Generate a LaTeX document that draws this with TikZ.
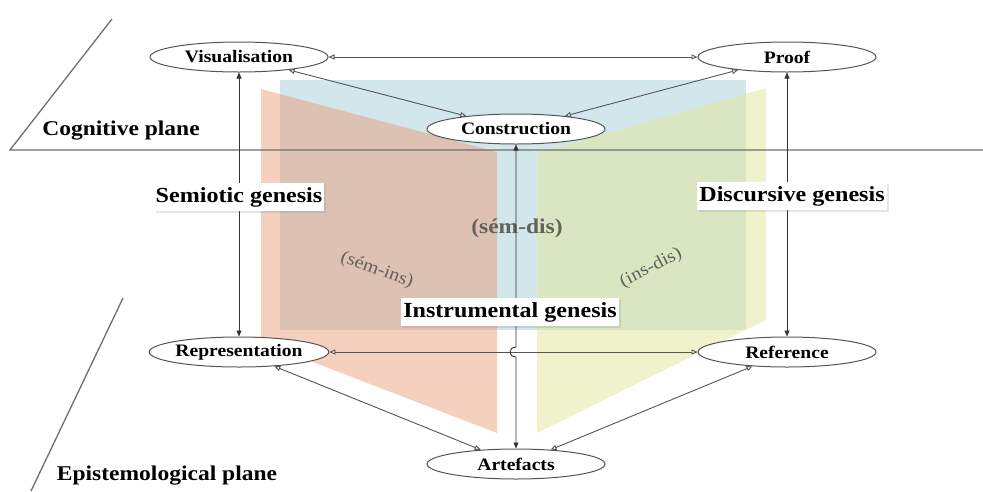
\documentclass[tikz,border=0pt]{standalone}
\usepackage{fontspec}
\setmainfont{Liberation Serif}[FakeStretch=1.12]
\usetikzlibrary{arrows.meta,shapes.geometric,calc,shadows}

\definecolor{panelblue}{RGB}{210,231,236}
\definecolor{panelred}{RGB}{236,150,112}
\definecolor{panelyellow}{RGB}{226,230,152}
\definecolor{planegray}{RGB}{110,110,110}
\definecolor{linkgray}{RGB}{85,85,85}
\definecolor{notegray}{RGB}{100,96,90}

\begin{document}
\begin{tikzpicture}[x=1pt, y=-1pt,
  stage/.style={ellipse, draw=linkgray, line width=1pt, fill=white,
    minimum width=178pt, minimum height=30pt, inner sep=0pt,
    font=\fontsize{17.5}{18}\selectfont\bfseries},
  genbox/.style={fill=white, inner xsep=2pt, inner ysep=4pt,
    font=\fontsize{21.5}{22}\selectfont\bfseries,
    drop shadow={opacity=0.2, shadow xshift=2pt, shadow yshift=-2pt}},
  planelabel/.style={font=\fontsize{21}{22}\selectfont\bfseries},
  note/.style={text=notegray, font=\fontsize{18}{18}\selectfont},
  plane/.style={draw=planegray, line width=1.3pt},
  link/.style={draw=linkgray, line width=0.9pt,
    {Triangle[length=6pt,width=5pt,fill=white]}-{Triangle[length=6pt,width=5pt,fill=white]}},
  genesis/.style={draw=black!80, line width=0.9pt,
    {Triangle[length=6pt,width=5pt]}-{Triangle[length=6pt,width=5pt]}}]
  \useasboundingbox (0,0) rectangle (983,491);

  % coloured panels
  \fill[panelblue] (280,80) rectangle (746,330);
  \fill[panelred, opacity=0.45] (261,89) -- (497,152) -- (497,433) -- (261,342) -- cycle;
  \fill[panelyellow, opacity=0.5] (766,88) -- (537,153) -- (537,433) -- (766,320) -- cycle;

  % planes
  \draw[plane] (112,19) -- (10,150) -- (983,150);
  \draw[plane] (123,298) -- (31,491);
  \node[planelabel] (cog) at (121,131) {Cognitive plane};
  \node[planelabel] (epi) at (167,476) {Epistemological plane};

  % panel notes
  \node[note, rotate=-20] (semins) at (377,270) {(sém-ins)};
  \node[note, font=\fontsize{21}{21}\selectfont\bfseries] (semdis) at (517,228) {(sém-dis)};
  \node[note, rotate=27] (insdis) at (651,268) {(ins-dis)};

  % poles
  \node[stage] (vis) at (239,57) {Visualisation};
  \node[stage] (prf) at (787,57) {Proof};
  \node[stage] (con) at (516,129) {Construction};
  \node[stage] (rep) at (239,352) {Representation};
  \node[stage] (ref) at (787,352) {Reference};
  \node[stage] (art) at (516,464) {Artefacts};

  % links inside each plane
  \draw[link] (vis) -- (prf);
  \draw[link] (vis) -- (con);
  \draw[link] (prf) -- (con);
  \draw[link] (rep) -- (ref);
  \draw[link] (rep) -- (art);
  \draw[link] (ref) -- (art);

  % geneses between the planes
  \draw[genesis] (vis) -- (rep);
  \draw[genesis] (prf) -- (ref);
  \coordinate (hop) at (con|-rep);
  \draw[genesis] (con) -- ($(hop)+(0,-5)$) .. controls +(-8,0) and +(-8,0) .. ($(hop)+(0,5)$) -- (art);

  \node[genbox] (sem) at (239,197) {Semiotic genesis};
  \node[genbox] (dsc) at (792,196) {Discursive genesis};
  \node[genbox] (ins) at (510,312) {Instrumental genesis};
\end{tikzpicture}
\end{document}
